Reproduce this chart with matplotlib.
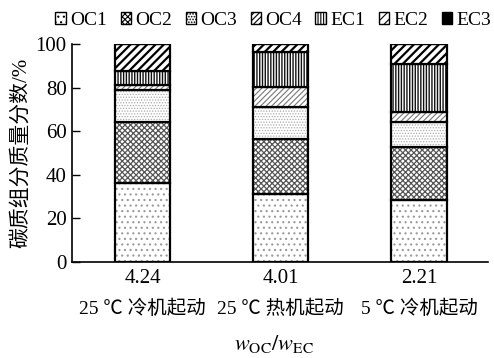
import matplotlib
matplotlib.use("Agg")
import matplotlib.pyplot as plt
import numpy as np
from matplotlib.patches import Patch

plt.rcParams['font.family'] = ['Liberation Serif', 'Noto Sans CJK SC']
plt.rcParams['mathtext.fontset'] = 'stix'
plt.rcParams['hatch.linewidth'] = 0.8

ratios = ["4.24", "4.01", "2.21"]
conditions = ["25 ℃ 冷机起动", "25 ℃ 热机起动", "5 ℃ 冷机起动"]
series = ["OC1", "OC2", "OC3", "OC4", "EC1", "EC2", "EC3"]
OC1 = [36.1, 31.1, 28.4]
OC2 = [28.3, 25.2, 24.5]
OC3 = [14.3, 14.9, 11.2]
OC4 = [2.3, 9.2, 4.6]
EC1 = [6.8, 16.1, 22.1]
EC2 = [12.2, 3.5, 9.2]
EC3 = [0.0, 0.0, 0.0]
values = [OC1, OC2, OC3, OC4, EC1, EC2, EC3]

hatches = ['...', 'xxxxxx', '......', '//////', '||||||', '////', '']
hatch_colors = ['#999999', '#555555', '#aaaaaa', '#777777', '#111111', '#000000', '#000000']
hatch_lw = [0.8, 0.9, 0.6, 0.8, 1.0, 1.6, 0.8]
faces = ['white', 'white', 'white', 'white', 'white', 'white', 'black']

fig = plt.figure(figsize=(4.94, 3.58), dpi=100)
ax = fig.add_axes([0.146, 0.268, 0.842, 0.609])

x = np.arange(len(ratios))
width = 0.4
bottom = np.zeros(len(ratios))
for vals, h, hc, fc, hl in zip(values, hatches, hatch_colors, faces, hatch_lw):
    vals = np.array(vals)
    with plt.rc_context({'hatch.linewidth': hl}):
        bars = ax.bar(x, vals, width, bottom=bottom, color=fc, hatch=h, edgecolor=hc, linewidth=0)
        for b in bars:
            if hasattr(b, 'set_hatch_linewidth'):
                b.set_hatch_linewidth(hl)
    ax.bar(x, vals, width, bottom=bottom, fill=False, edgecolor='black', linewidth=1.6)
    bottom += vals

ax.set_xlim(-0.51, 2.5)
ax.set_ylim(0, 100)
ax.set_yticks([0, 20, 40, 60, 80, 100])
ax.tick_params(axis='y', direction='in', length=6, labelsize=15, width=1, pad=4)
ax.tick_params(axis='x', length=0, labelsize=15, pad=5)
ax.set_xticks(x)
ax.set_xticklabels(ratios)
for xi, c in zip(x, conditions):
    ax.text(xi, -0.215, c, transform=ax.get_xaxis_transform(), ha='center', va='center',
            fontsize=14)
ax.spines['top'].set_visible(False)
ax.spines['right'].set_visible(False)
ax.spines['left'].set_linewidth(1.2)
ax.spines['bottom'].set_linewidth(1.2)

ax.set_ylabel("碳质组分质量分数/%", fontsize=15, labelpad=3)
fig.text(0.555, 0.04, r"$w_{\mathrm{OC}}/w_{\mathrm{EC}}$", fontsize=16, ha='center', va='center')

handles = []
for s, h, hc, fc in zip(series, hatches, hatch_colors, faces):
    handles.append(Patch(facecolor=fc, edgecolor='black', hatch=h, linewidth=1.0, label=s))
leg = fig.legend(handles=handles, loc='center', bbox_to_anchor=(0.553, 0.944), ncol=7,
                 frameon=False, fontsize=14, handlelength=0.55, handleheight=0.6,
                 handletextpad=0.2, columnspacing=0.7, borderpad=0.1)

fig.savefig("out.png", dpi=100)
